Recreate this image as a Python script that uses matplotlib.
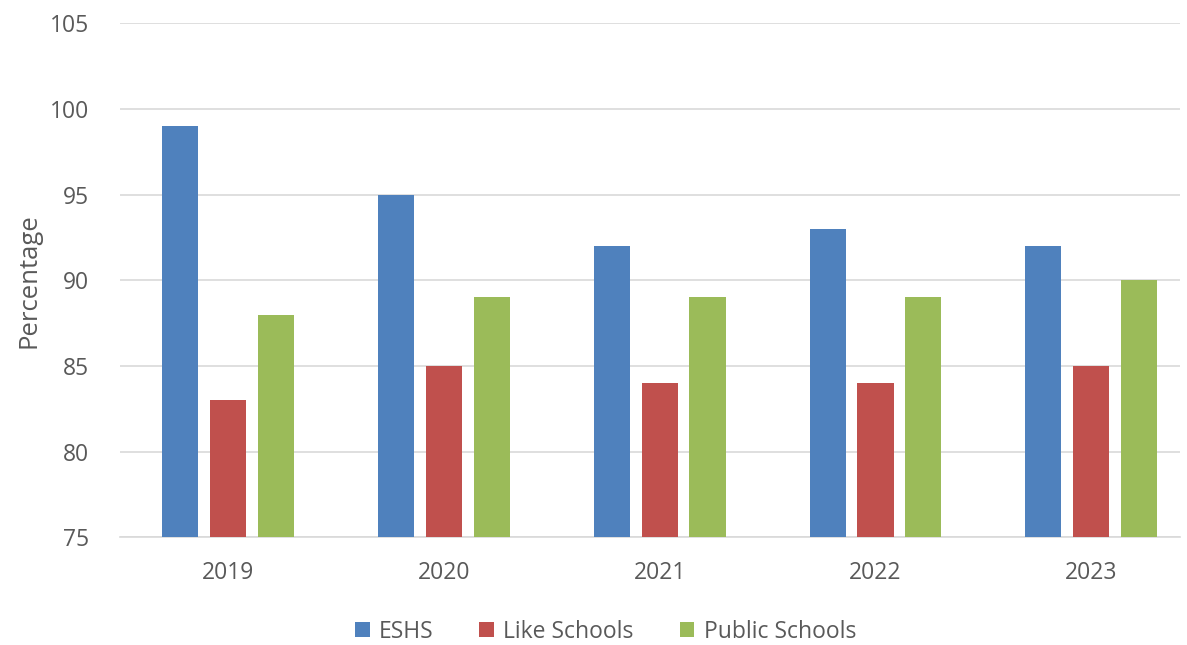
"""
Graduation rate comparison: ESHS vs like and public schools, 2019-2023.
"""

import matplotlib.pyplot as plt
import numpy as np

years = ["2019", "2020", "2021", "2022", "2023"]
eshs = [99, 95, 92, 93, 92]
like_schools = [83, 85, 84, 84, 85]
public_schools = [88, 89, 89, 89, 90]

series = [
    ("ESHS", eshs, "#4f81bd"),
    ("Like Schools", like_schools, "#c0504d"),
    ("Public Schools", public_schools, "#9bbb59"),
]


def main():
    plt.rcParams["font.family"] = ["Open Sans", "DejaVu Sans"]
    text_color = "#595959"

    fig = plt.figure(figsize=(11.87, 6.45), dpi=100)
    ax = fig.add_axes([0.101, 0.167, 0.893, 0.797])

    x = np.arange(len(years))
    width = 0.167
    step = 0.222
    for i, (name, values, color) in enumerate(series):
        ax.bar(x + (i - 1) * step, np.array(values) - 75, width,
               bottom=75, color=color, label=name, zorder=3)

    ax.set_ylim(75, 105)
    ax.set_yticks(range(75, 106, 5))
    ax.set_xlim(-0.5, 4.41)
    ax.set_xticks(x)
    ax.set_xticklabels(years)

    ax.grid(axis="y", color="#d9d9d9", linewidth=1.2, zorder=0)
    for side in ["top", "right", "left"]:
        ax.spines[side].set_visible(False)
    ax.spines["bottom"].set_color("#d9d9d9")
    ax.spines["bottom"].set_linewidth(1.2)
    ax.tick_params(axis="both", length=0, labelsize=16.5, colors=text_color)
    ax.tick_params(axis="y", pad=22)
    ax.tick_params(axis="x", pad=17)

    ax.set_ylabel("Percentage", fontsize=18.5, color=text_color, labelpad=6)

    fig.legend(loc="lower center", bbox_to_anchor=(0.51, -0.03), ncol=3,
               frameon=False, fontsize=16.5, labelcolor=text_color,
               handlelength=0.65, handleheight=0.65, handletextpad=0.4,
               columnspacing=2.0)

    fig.savefig("out.png", dpi=100)


if __name__ == "__main__":
    main()
